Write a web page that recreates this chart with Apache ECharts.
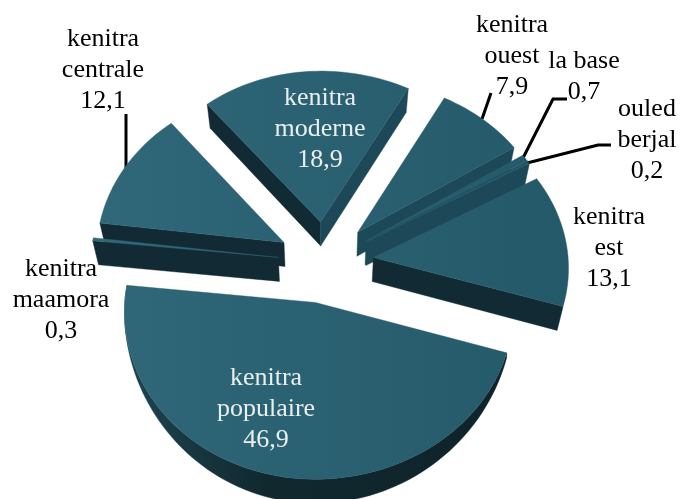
<!DOCTYPE html>
<html>
<head>
<meta charset="utf-8">
<style>html,body{margin:0;padding:0;background:#fff}#c{width:681px;height:499px}</style>
<script src="https://cdn.jsdelivr.net/npm/echarts@6/dist/echarts.min.js"></script>
</head>
<body>
<div id="c"></div>
<script>
// Data (clockwise from the first slice)
var categories = ['kenitra\nmoderne', 'kenitra\nouest', 'la base', 'ouled\nberjal', 'kenitra\nest', 'kenitra\npopulaire', 'kenitra\nmaamora', 'kenitra\ncentrale'];
var values = [18.9, 7.9, 0.7, 0.2, 13.1, 46.9, 0.3, 12.1];
var valueLabels = ['18,9', '7,9', '0,7', '0,2', '13,1', '46,9', '0,3', '12,1'];

// Layout and styling, separate from the data
var drawOrder = [0, 7, 1, 2, 3, 4, 6, 5];
var labelCentres = [[320, 98.5], [512, 25], [584, 61], [647, 109], [609, 217], [266, 378.5], [61, 269], [103, 39.5]];
var labelColours = ['#e9efef', '#000', '#000', '#000', '#000', '#e9efef', '#000', '#000'];
var leaders = [
  [[126, 114], [126, 168]],
  [[491, 93], [482, 119]],
  [[567, 99], [553, 99], [523, 158]],
  [[611, 145], [598, 145], [527, 163]]
];
var startAngle = -39.5, explode = 0.25;
var cx = 325, cy = 262, R = 195, RY = 163, K = 0.053, DEPTH = 24;
var SHRINK = 0.975, LEFT_SCALE = 0.965, RIM_POWER = 1.3;
var LINE = 31;

var total = values.reduce(function (a, b) { return a + b; }, 0);
var starts = [], acc = startAngle;
values.forEach(function (v) { starts.push(acc); acc += v / total * 360; });

function project(x, y, shrink) {
  var p = 1 / (1 + K * y);
  var X = cx + R * x * p, Y = cy - RY * y * p;
  if (X < cx) X = cx + (X - cx) * LEFT_SCALE;
  if (shrink) { X = cx + (X - cx) * shrink; Y += DEPTH; }
  return [X, Y];
}
function rad(d) { return d * Math.PI / 180; }
function topGrad() {
  return new echarts.graphic.LinearGradient(100, 0, 560, 0, [
    { offset: 0, color: '#306879' }, { offset: 1, color: '#245969' }
  ], true);
}
function rimGrad() {
  return new echarts.graphic.LinearGradient(130, 0, 520, 0, [
    { offset: 0, color: '#1d4350' }, { offset: 0.35, color: '#11282f' }, { offset: 1, color: '#0f2329' }
  ], true);
}
function poly(points, fill) {
  return { type: 'polygon', shape: { points: points }, style: { fill: fill, stroke: fill, lineWidth: 0.4 }, silent: true };
}
function renderSlice(params, api) {
  var i = api.value(0), sweep = api.value(1) / total * 360;
  var a0 = starts[i], a1 = a0 + sweep, mid = a0 + sweep / 2;
  var ox = Math.sin(rad(mid)) * explode, oy = Math.cos(rad(mid)) * explode;
  var steps = Math.max(2, Math.ceil(sweep / 2)), arc = [], rimLow = [];
  for (var s = 0; s <= steps; s++) {
    var t = rad(a0 + sweep * s / steps);
    var q = [ox + Math.sin(t), oy + Math.cos(t)];
    arc.push(q);
    var pt = project(q[0], q[1], 0);
    rimLow.push([pt[0], pt[1] + DEPTH * Math.pow(Math.abs(Math.cos(t)), RIM_POWER)]);
  }
  var up = function (q) { return project(q[0], q[1], 0); };
  var lo = function (q) { return project(q[0], q[1], SHRINK); };
  var apex = [ox, oy], children = [];

  // outer rim, for slices that face the viewer
  if (Math.cos(rad(mid)) < 0) {
    children.push(poly(arc.map(up).concat(rimLow.reverse()), rimGrad()));
  }
  // cut faces, only those turned towards the viewer
  [[a0, a0 - 90, arc[0]], [a1, a1 + 90, arc[arc.length - 1]]].forEach(function (f) {
    var n = rad(f[1]);
    if (Math.cos(n) < 0) {
      var fill = Math.sin(n) > 0.3 ? '#1c4857' : '#122a33';
      children.push(poly([up(apex), up(f[2]), lo(f[2]), lo(apex)], fill));
    }
  });
  // top face
  children.push(poly([up(apex)].concat(arc.map(up)), topGrad()));
  return { type: 'group', children: children };
}
function renderLabel(params, api) {
  var i = api.value(0);
  var c = labelCentres[i];
  var lines = categories[i].split('\n').concat(valueLabels[i]);
  return {
    type: 'group',
    children: lines.map(function (t, k) {
      return {
        type: 'text', silent: true,
        style: {
          text: t, x: c[0], y: c[1] + k * LINE, fill: labelColours[i],
          font: '26px "Liberation Serif", "Times New Roman", serif',
          textAlign: 'center', textVerticalAlign: 'middle'
        }
      };
    })
  };
}
var chart = echarts.init(document.getElementById('c'), null, { renderer: 'canvas' });
chart.setOption({
  backgroundColor: '#ffffff',
  animation: false,
  tooltip: { show: false },
  series: [
    {
      type: 'custom', coordinateSystem: 'none', z: 1, silent: true,
      renderItem: function (params, api) {
        var l = leaders[api.value(0)];
        return { type: 'polyline', shape: { points: l }, style: { stroke: '#000', lineWidth: 3, fill: null }, silent: true };
      },
      data: leaders.map(function (l, i) { return [i]; })
    },
    {
      type: 'custom', coordinateSystem: 'none', z: 2, silent: true,
      renderItem: renderSlice,
      data: drawOrder.map(function (i) { return [i, values[i]]; })
    },
    {
      type: 'custom', coordinateSystem: 'none', z: 3, silent: true,
      renderItem: renderLabel,
      data: values.map(function (v, i) { return [i, v]; })
    }
  ]
});
</script>
</body>
</html>
